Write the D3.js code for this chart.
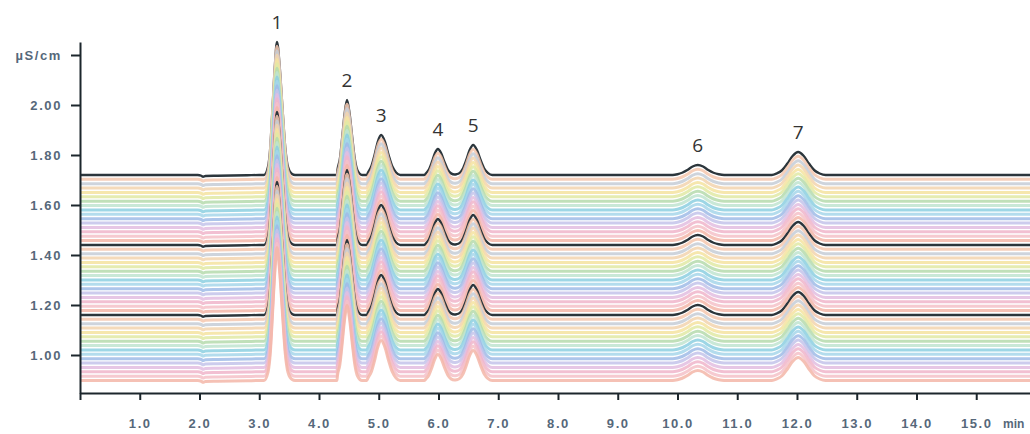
<!DOCTYPE html>
<html>
<head>
<meta charset="utf-8">
<script src="https://cdn.jsdelivr.net/npm/d3@7"></script>
<style>
body { margin: 0; background: #fff; }
</style>
</head>
<body>
<script>
// baseline of every trace, top to bottom (µS/cm)
var baselines = [
  1.720, 1.703, 1.685, 1.668, 1.650, 1.633, 1.615, 1.598, 1.580, 1.563, 1.545, 1.528, 1.510, 1.493, 1.475, 1.458,
  1.440, 1.423, 1.405, 1.388, 1.370, 1.353, 1.335, 1.318, 1.300, 1.283, 1.265, 1.248, 1.230, 1.213, 1.195, 1.178,
  1.160, 1.143, 1.125, 1.108, 1.090, 1.073, 1.055, 1.038, 1.020, 1.003, 0.985, 0.968, 0.950, 0.933, 0.915, 0.898
];

// chromatogram shape (min, signal above baseline)
var profileTime = [
  0, 1.97, 2.03, 2.06, 2.10, 2.30, 2.80, 3.00,
  3.08, 3.147, 3.185, 3.222, 3.26, 3.297, 3.343, 3.389, 3.435, 3.481, 3.55, 3.60,
  4.30, 4.309, 4.349, 4.389, 4.429, 4.469, 4.512, 4.556, 4.60, 4.643, 4.72,
  4.80, 4.82, 4.875, 4.93, 4.985, 5.04, 5.102, 5.165, 5.228, 5.29, 5.36,
  5.76, 5.79, 5.84, 5.89, 5.94, 5.99, 6.045, 6.10, 6.155, 6.21, 6.27,
  6.30, 6.35, 6.407, 6.465, 6.522, 6.58, 6.643, 6.705, 6.768, 6.83, 6.90,
  9.92, 10.00, 10.078, 10.165, 10.253, 10.34, 10.428, 10.515, 10.603, 10.69, 10.78,
  11.58, 11.66, 11.75, 11.84, 11.93, 12.02, 12.11, 12.20, 12.29, 12.38, 12.48,
  15.9
];
var profileSignal = [
  0, 0, -0.003, -0.007, -0.004, -0.003, -0.001, 0,
  0, 0.033, 0.11, 0.266, 0.43, 0.532, 0.43, 0.266, 0.11, 0.033, 0.004, 0,
  0, 0.019, 0.063, 0.15, 0.245, 0.30, 0.245, 0.15, 0.063, 0.019, 0,
  0, 0.01, 0.034, 0.08, 0.134, 0.16, 0.134, 0.08, 0.034, 0.01, 0,
  0, 0.0065, 0.022, 0.052, 0.087, 0.104, 0.087, 0.052, 0.022, 0.0065, 0.002,
  0.003, 0.0075, 0.025, 0.06, 0.10, 0.12, 0.10, 0.06, 0.025, 0.0075, 0,
  0, 0.003, 0.009, 0.02, 0.034, 0.04, 0.034, 0.02, 0.009, 0.003, 0,
  0, 0.006, 0.019, 0.046, 0.077, 0.092, 0.077, 0.046, 0.019, 0.006, 0,
  0
];

var peakNames = ["1", "2", "3", "4", "5", "6", "7"];
var peakTimes = [3.297, 4.469, 5.04, 5.99, 6.58, 10.34, 12.02];
var peakHeights = [0.532, 0.30, 0.16, 0.104, 0.12, 0.04, 0.092];

var xTicks = [0, 1, 2, 3, 4, 5, 6, 7, 8, 9, 10, 11, 12, 13, 14, 15];
var xTickLabels = ["", "1.0", "2.0", "3.0", "4.0", "5.0", "6.0", "7.0", "8.0", "9.0", "10.0", "11.0", "12.0", "13.0", "14.0", "15.0"];
var yTicks = [1.0, 1.2, 1.4, 1.6, 1.8, 2.0, 2.2];
var yTickLabels = ["1.00", "1.20", "1.40", "1.60", "1.80", "2.00", "µS/cm"];

// pastel colours of the traces between two black ones
var palette = [
  "#f4c7ae", "#c6cdd6", "#f2d3ae", "#f4e3a0", "#e1e9a4", "#b5dbad", "#bfe4d0", "#8ccfe0",
  "#a6d6ea", "#9fbbe6", "#c3c3ea", "#e2bde0", "#f0b5ca", "#f4c1c8", "#f3b6a8"
];

var w = 1030;
var h = 434;

var x = d3.scaleLinear().domain([0, 15.9]).range([80, 1030]);
var y = d3.scaleLinear().domain([0.848, 2.252]).range([393, 42]);

var svg = d3.select("body")
  .append("svg")
  .attr("width", w)
  .attr("height", h);

var profile = profileTime.map(function(t, i) { return [t, profileSignal[i]]; });

var line = d3.line()
  .curve(d3.curveMonotoneX)
  .x(function(d) { return x(d[0]); })
  .y(function(d) { return y(d[1]); });

svg.append("g")
  .selectAll("path")
  .data(baselines)
  .enter()
  .append("path")
  .attr("d", function(b) {
    return line(profile.map(function(p) { return [p[0], b + p[1]]; }));
  })
  .attr("fill", "none")
  .attr("stroke", function(b, i) {
    return i % 16 === 0 ? "#2c363c" : palette[(i % 16) - 1];
  })
  .attr("stroke-width", function(b, i) { return i % 16 === 0 ? 2.4 : 3; })
  .attr("stroke-opacity", function(b, i) { return i % 16 === 0 ? 1 : 0.85; })
  .attr("stroke-linejoin", "round");

// peak numbers
svg.selectAll("text.peak")
  .data(peakNames)
  .enter()
  .append("text")
  .attr("class", "peak")
  .text(function(d) { return d; })
  .attr("x", function(d, i) { return x(peakTimes[i]); })
  .attr("y", function(d, i) { return y(baselines[0] + peakHeights[i]) - 13; })
  .attr("text-anchor", "middle")
  .attr("font-family", "'Open Sans', sans-serif")
  .attr("font-size", "19px")
  .attr("fill", "#333");

// axes
var xAxis = d3.axisBottom(x)
  .tickValues(xTicks)
  .tickFormat(function(d, i) { return xTickLabels[i]; })
  .tickSize(7)
  .tickSizeOuter(0)
  .tickPadding(19);

var yAxis = d3.axisLeft(y)
  .tickValues(yTicks)
  .tickFormat(function(d, i) { return yTickLabels[i]; })
  .tickSize(9)
  .tickSizeOuter(0)
  .tickPadding(9);

var gx = svg.append("g")
  .attr("transform", "translate(0,393)")
  .call(xAxis);

var gy = svg.append("g")
  .attr("transform", "translate(80,0)")
  .call(yAxis);

[gx, gy].forEach(function(g) {
  g.select(".domain").attr("stroke", "#1c262c").attr("stroke-width", 2);
  g.selectAll(".tick line").attr("stroke", "#1c262c").attr("stroke-width", 2);
  g.selectAll(".tick text")
    .attr("font-family", "'Liberation Sans', Arial, sans-serif")
    .attr("font-size", "13px")
    .attr("font-weight", "bold")
    .attr("letter-spacing", "1.6px")
    .attr("fill", "#56687a");
});

svg.append("text")
  .text("min")
  .attr("x", 1003)
  .attr("y", 428)
  .attr("font-family", "'Liberation Sans', Arial, sans-serif")
  .attr("font-size", "12px")
  .attr("font-weight", "bold")
  .attr("fill", "#56687a");
</script>
</body>
</html>
